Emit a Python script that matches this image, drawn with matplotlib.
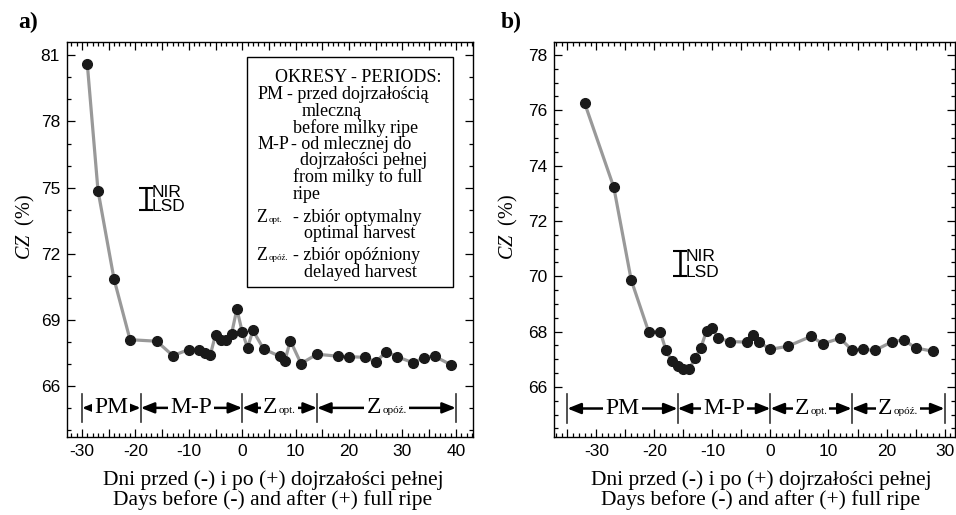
import matplotlib
matplotlib.use("Agg")
import matplotlib.pyplot as plt
from matplotlib.ticker import MultipleLocator, FuncFormatter
from matplotlib.offsetbox import TextArea, HPacker, AnnotationBbox

plt.rcParams['font.family'] = ['Liberation Sans', 'DejaVu Sans']
plt.rcParams['mathtext.fontset'] = 'custom'
plt.rcParams['mathtext.rm'] = 'Liberation Serif'
plt.rcParams['mathtext.it'] = 'Liberation Serif:italic'

# panel a) data: days before (-) / after (+) full ripe, CZ (%)
days_a = [-29, -27, -24, -21, -16, -13, -10, -8, -7, -6, -5, -4, -3, -2, -1,
          0, 1, 2, 4, 7, 8, 9, 11, 14, 18, 20, 23, 25, 27, 29, 32, 34, 36, 39]
cz_a = [80.6, 74.87, 70.86, 68.11, 68.04, 67.39, 67.66, 67.66, 67.51, 67.40,
        68.33, 68.11, 68.11, 68.37, 69.50, 68.46, 67.74, 68.53, 67.69, 67.36,
        67.16, 68.07, 67.03, 67.45, 67.36, 67.34, 67.31, 67.10, 67.57, 67.34,
        67.06, 67.30, 67.36, 66.98]

# panel b) data
days_b = [-32, -27, -24, -21, -19, -18, -17, -16, -15, -14, -13, -12, -11,
          -10, -9, -7, -4, -3, -2, 0, 3, 7, 9, 12, 14, 16, 18, 21, 23, 25, 28]
cz_b = [76.25, 73.22, 69.87, 68.0, 68.0, 67.32, 66.93, 66.77, 66.66, 66.64,
        67.04, 67.41, 68.04, 68.12, 67.77, 67.64, 67.62, 67.86, 67.62, 67.36,
        67.47, 67.83, 67.56, 67.76, 67.34, 67.36, 67.32, 67.64, 67.70, 67.41,
        67.29]

# period boundaries (days) and names (main, subscript)
bounds_a = [-30, -19, 0, 14, 40]
bounds_b = [-35, -16, 0, 14, 30]
period_names = [('PM', ''), ('M-P', ''), ('Z', 'opt.'), ('Z', 'opóź.')]

# NIR / LSD bars: x position, low, high
lsd_a = (-18, 74.0, 75.0)
lsd_b = (-15.6, 70.0, 70.9)

W, H = 956, 515
fig = plt.figure(figsize=(W / 100, H / 100), dpi=100)
SERIF = 'Liberation Serif'


def px(x, y):
    return x / W, 1 - y / H


def sub_label(main, sub, size, subsize):
    # text with a tiny subscript, like Z_opt.
    parts = [TextArea(main, textprops=dict(family=SERIF, fontsize=size))]
    if sub:
        parts.append(TextArea(sub, textprops=dict(family=SERIF, fontsize=subsize)))
    return HPacker(children=parts, align='baseline', pad=0, sep=1)


def setup_axes(ax, xlim, ylim, ymaj, ymin):
    ax.set_xlim(*xlim)
    ax.set_ylim(*ylim)
    ax.xaxis.set_major_locator(MultipleLocator(5))
    ax.xaxis.set_minor_locator(MultipleLocator(1))
    ax.xaxis.set_major_formatter(
        FuncFormatter(lambda v, p: '%d' % v if round(v) % 10 == 0 else ''))
    ax.yaxis.set_major_locator(MultipleLocator(ymaj))
    ax.yaxis.set_minor_locator(MultipleLocator(ymin))
    ax.yaxis.set_major_formatter(FuncFormatter(lambda v, p: '%d' % v))
    ax.tick_params(which='both', direction='in', top=True, right=True,
                   labelsize=12.5, width=0.9)
    ax.tick_params(which='major', length=6, pad=5)
    ax.tick_params(which='minor', length=3)
    for s in ax.spines.values():
        s.set_linewidth(1.0)


def draw_periods(ax, bounds, y, y0, y1):
    for b in bounds:
        ax.plot([b, b], [y0, y1], color='#333333', lw=1.2)
    for i, (name, sub) in enumerate(period_names):
        l, r = bounds[i], bounds[i + 1]
        ax.annotate('', xy=(l, y), xytext=(r, y),
                    arrowprops=dict(arrowstyle='<|-|>,head_length=0.8,head_width=0.32',
                                    color='black', lw=1.8,
                                    shrinkA=0, shrinkB=0))
        ab = AnnotationBbox(sub_label(name, sub, 17, 8), ((l + r) / 2, y),
                            frameon=True, pad=0.15, box_alignment=(0.5, 0.5),
                            bboxprops=dict(facecolor='white', edgecolor='none'))
        ax.add_artist(ab)


def draw_lsd(ax, lsd):
    x, lo, hi = lsd
    ax.errorbar([x], [(lo + hi) / 2], yerr=[(hi - lo) / 2], fmt='none',
                ecolor='black', elinewidth=1.8, capsize=5, capthick=1.5)
    ax.annotate('NIR', xy=(x, hi), xytext=(4, 2), textcoords='offset points',
                ha='left', va='top', fontsize=12.5)
    ax.annotate('LSD', xy=(x, lo), xytext=(4, -3), textcoords='offset points',
                ha='left', va='bottom', fontsize=12.5)


def draw_series(ax, days, cz):
    ax.plot(days, cz, color='#999999', lw=2.3, zorder=2)
    ax.plot(days, cz, 'o', color='#1a1a1a', ms=7, zorder=3)


# panel a
ax1 = fig.add_axes([67 / W, 1 - 437 / H, 406 / W, 395 / H])
setup_axes(ax1, (-32.8, 43.2), (63.7, 81.6), 3, 1)
draw_series(ax1, days_a, cz_a)
draw_periods(ax1, bounds_a, 65.02, 64.36, 65.67)
draw_lsd(ax1, lsd_a)

# panel b
ax2 = fig.add_axes([554 / W, 1 - 437 / H, 401 / W, 395 / H])
setup_axes(ax2, (-37.3, 31.8), (64.19, 78.47), 2, 0.5)
draw_series(ax2, days_b, cz_b)
draw_periods(ax2, bounds_b, 65.22, 64.7, 65.75)
draw_lsd(ax2, lsd_b)

# legend box with periods explanation
box = plt.Rectangle(px(247, 287), (453 - 247) / W, (287 - 57) / H,
                    transform=fig.transFigure, facecolor='white',
                    edgecolor='black', lw=1.0, zorder=5)
fig.add_artist(box)
LEG = 13
serif = dict(family=SERIF, fontsize=LEG, va='baseline', zorder=6)
fig.text(*px(358, 82), 'OKRESY - PERIODS:', ha='center', **serif)
legend_lines = [
    (258, 99, 'PM'), (287, 99, '- przed dojrzałością'),
    (302, 116, 'mleczną'), (293, 133, 'before milky ripe'),
    (258, 149, 'M-P'), (291, 149, '- od mlecznej do'),
    (300, 165, 'dojrzałości pełnej'), (293, 182, 'from milky to full'),
    (293, 199, 'ripe'),
    (293, 222, '- zbiór optymalny'), (304, 238, 'optimal harvest'),
    (293, 260, '- zbiór opóźniony'), (304, 277, 'delayed harvest'),
]
for x, y, s in legend_lines:
    fig.text(*px(x, y), s, ha='left', **serif)
for y, sub in [(222, 'opt.'), (260, 'opóź.')]:
    ab = AnnotationBbox(sub_label('Z', sub, LEG, 6.5), px(256, y + 4),
                        xycoords='figure fraction', frameon=False,
                        box_alignment=(0, 0), pad=0, zorder=6)
    fig.add_artist(ab)

# axis labels
ylab = r'$\mathit{CZ}$  (%)'
for xc, xl in [(25, 273), (508, 761)]:
    fig.text(*px(xc, 227), ylab, rotation=90, ha='center', va='center',
             family=SERIF, fontsize=14.5)
    fig.text(*px(xl, 480), 'Dni przed (-) i po (+) dojrzałości pełnej',
             ha='center', va='center', family=SERIF, fontsize=15.5)
    fig.text(*px(xl, 500), 'Days before (-) and after (+) full ripe',
             ha='center', va='center', family=SERIF, fontsize=15.5)

fig.text(*px(18, 22), 'a)', ha='left', va='center', family=SERIF,
         fontsize=17, fontweight='bold')
fig.text(*px(501, 22), 'b)', ha='left', va='center', family=SERIF,
         fontsize=17, fontweight='bold')

fig.savefig('out.png', dpi=100)
